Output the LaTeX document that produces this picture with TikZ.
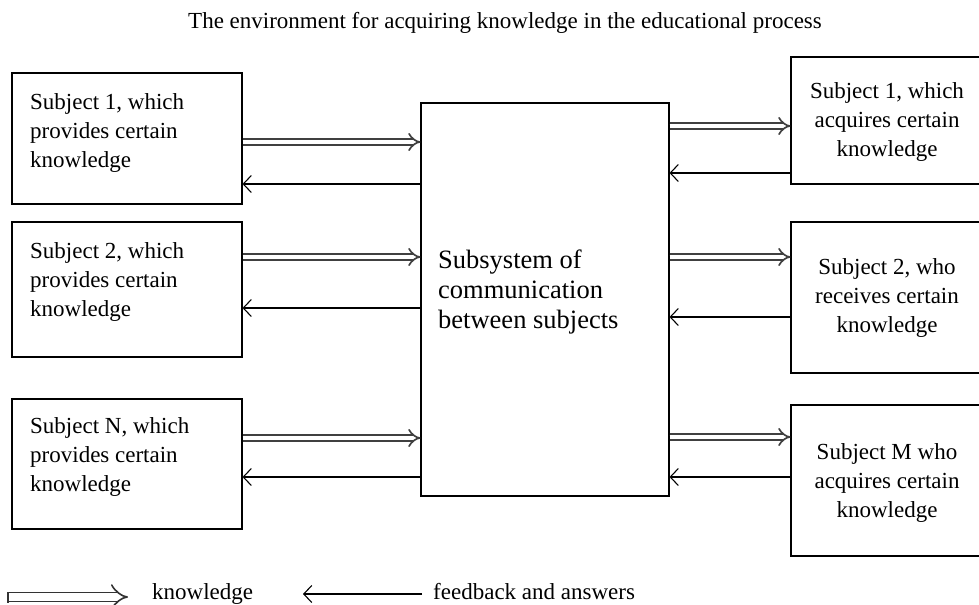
\documentclass[tikz,border=0pt]{standalone}
\usepackage{fontspec}
\setmainfont{Liberation Serif}
\usetikzlibrary{arrows.meta}
\begin{document}
\begin{tikzpicture}[x=1bp,y=-1bp,
  box/.style={draw, line width=1.1bp, inner sep=0},
  txt/.style={inner sep=0, font=\fontsize{23bp}{29bp}\selectfont},
  bigtxt/.style={inner sep=0, font=\fontsize{26.5bp}{30bp}\selectfont},
  kn/.style={double, double distance=4.5bp, line width=1.7bp, draw=black!75, -{Implies[length=7bp,width=18bp]}},
  knlegend/.style={double, double distance=7.5bp, line width=1.6bp, draw=black!80, -{Implies[length=8bp,width=22bp]}},
  fb/.style={line width=1.1bp, -{Straight Barb[length=8bp,width=17bp]}}]
\useasboundingbox (0,0) rectangle (979,605);

\node[txt, anchor=north] (title) at (505,12) {The environment for acquiring knowledge in the educational process};

% left boxes
\node[box, minimum width=230bp, minimum height=131bp] (L1) at (127,138.5) {};
\node[box, minimum width=230bp, minimum height=135bp] (L2) at (127,289.5) {};
\node[box, minimum width=230bp, minimum height=130bp] (L3) at (127,464) {};
\node[txt, anchor=north west, align=left] (tL1) at (30,93) {Subject 1, which\\provides certain\\knowledge};
\node[txt, anchor=north west, align=left] (tL2) at (30,242) {Subject 2, which\\provides certain\\knowledge};
\node[txt, anchor=north west, align=left] (tL3) at (30,417) {Subject N, which\\provides certain\\knowledge};

% center box
\node[box, minimum width=248bp, minimum height=393bp] (C) at (545,299.5) {};
\node[bigtxt, anchor=north west, align=left] (tC) at (438,250) {Subsystem of\\communication\\between subjects};

% right boxes
\node[box, minimum width=192bp, minimum height=127bp] (R1) at (887,120.5) {};
\node[box, minimum width=192bp, minimum height=151bp] (R2) at (887,297.5) {};
\node[box, minimum width=192bp, minimum height=151bp] (R3) at (887,480.5) {};
\node[txt, anchor=north, align=center] (tR1) at (887,82) {Subject 1, which\\acquires certain\\knowledge};
\node[txt, anchor=north, align=center] (tR2) at (887,258) {Subject 2, who\\receives certain\\knowledge};
\node[txt, anchor=north, align=center] (tR3) at (887,443) {Subject M who\\acquires certain\\knowledge};

% left connectors
\draw[kn] (L1.east |- 0,142) -- (C.west |- 0,142);
\draw[fb] (C.west |- 0,184) -- (L1.east |- 0,184);
\draw[kn] (L2.east |- 0,257) -- (C.west |- 0,257);
\draw[fb] (C.west |- 0,308) -- (L2.east |- 0,308);
\draw[kn] (L3.east |- 0,438) -- (C.west |- 0,438);
\draw[fb] (C.west |- 0,477) -- (L3.east |- 0,477);

% right connectors
\draw[kn] (C.east |- 0,126) -- (R1.west |- 0,126);
\draw[fb] (R1.west |- 0,173) -- (C.east |- 0,173);
\draw[kn] (C.east |- 0,257) -- (R2.west |- 0,257);
\draw[fb] (R2.west |- 0,317) -- (C.east |- 0,317);
\draw[kn] (C.east |- 0,437) -- (R3.west |- 0,437);
\draw[fb] (R3.west |- 0,477) -- (C.east |- 0,477);

% legend
\coordinate (k1) at (8,597);
\coordinate (k2) at (128,597);
\coordinate (f1) at (422,594);
\coordinate (f2) at (303,594);
\draw[knlegend] (k1) -- (k2);
\draw[line width=1.6bp, draw=black!80] ([yshift=-5.5bp]k1) -- ([yshift=5.5bp]k1);
\draw[fb] (f1) -- (f2);
\node[txt, anchor=north west] (lk) at (152,583) {knowledge};
\node[txt, anchor=north west] (lf) at (433,583) {feedback and answers};
\end{tikzpicture}
\end{document}
